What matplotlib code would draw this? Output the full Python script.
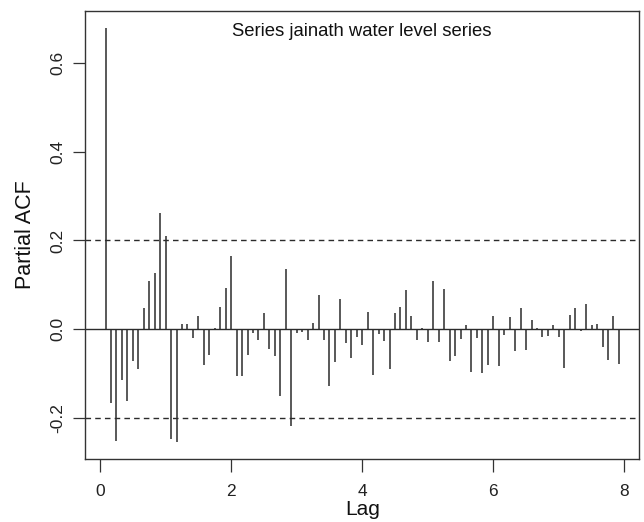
import matplotlib
matplotlib.use("Agg")
import matplotlib.pyplot as plt
import numpy as np

plt.rcParams['font.family'] = ['Liberation Sans', 'DejaVu Sans']

# partial autocorrelations, lags 1..95 at frequency 12
pacf_vals = [
 0.679, -0.166, -0.251, -0.113, -0.162, -0.072, -0.090, 0.047, 0.109, 0.127,
 0.261, 0.211, -0.246, -0.254, 0.011, 0.011, -0.020, 0.031, -0.080, -0.057,
 0.003, 0.050, 0.094, 0.166, -0.106, -0.104, -0.057, -0.008, -0.025, 0.036,
 -0.045, -0.060, -0.149, 0.136, -0.218, -0.009, -0.007, -0.025, 0.015, 0.077,
 -0.024, -0.127, -0.073, 0.068, -0.031, -0.064, -0.018, -0.036, 0.038, -0.102,
 -0.011, -0.027, -0.089, 0.036, 0.050, 0.089, 0.030, -0.025, 0.003, -0.028,
 0.109, -0.028, 0.091, -0.072, -0.060, -0.022, 0.010, -0.096, -0.020, -0.099,
 -0.080, 0.031, -0.082, -0.013, 0.027, -0.048, 0.047, -0.046, 0.022, 0.004,
 -0.018, -0.015, 0.010, -0.018, -0.087, 0.033, 0.047, -0.004, 0.056, 0.010,
 0.013, -0.039, -0.069, 0.031, -0.077]
freq = 12
ci = 0.2
lags = np.arange(1, len(pacf_vals) + 1) / freq
title = "Series jainath water level series"

fig = plt.figure(figsize=(6.44, 5.22), dpi=100)
ax = fig.add_axes([0.132, 0.121, 0.861, 0.858])

ax.vlines(lags, 0, pacf_vals, color='#2b2b2b', lw=1.1)
ax.axhline(0, color='#2b2b2b', lw=1.0)
for c in (ci, -ci):
 ax.axhline(c, color='#2b2b2b', lw=1.0, ls=(0, (4, 3)))

# R style 4% padding
lo, hi = min(pacf_vals), max(pacf_vals)
pad = 0.04 * (hi - lo)
ax.set_ylim(lo - pad, hi + pad)
xpad = 0.04 * (lags[-1] - lags[0])
ax.set_xlim(lags[0] - xpad, lags[-1] + xpad)

ax.set_xticks([0, 2, 4, 6, 8])
ax.set_yticks([-0.2, 0.0, 0.2, 0.4, 0.6])
ax.set_yticklabels(['-0.2', '0.0', '0.2', '0.4', '0.6'], rotation=90, va='center')
ax.tick_params(axis='both', length=9, width=0.9, color='#333333', labelsize=12.5, labelcolor='#222222')
ax.tick_params(axis='x', pad=9)
ax.tick_params(axis='y', pad=5)
for s in ax.spines.values():
 s.set_linewidth(1.0)
 s.set_color('#333333')

ax.set_xlabel("Lag", fontsize=15, color='#111111', va='center')
ax.set_ylabel("Partial ACF", fontsize=15.5, color='#111111', va='center')
ax.xaxis.set_label_coords(0.5, -0.112)
ax.yaxis.set_label_coords(-0.108, 0.5)
ax.text(0.5, 0.955, title, transform=ax.transAxes, ha='center', va='center', fontsize=13.3, color='#111111')

fig.savefig("out.png", dpi=100)
